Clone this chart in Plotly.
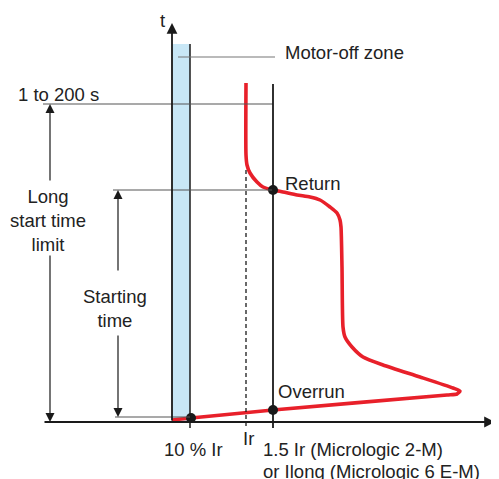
import plotly.graph_objects as go

# ---------------- data (schematic coordinates: current -> x, time -> y) ----------------
curve_current = [246, 246, 247, 250, 257, 263, 273, 283, 297, 310, 320, 330, 337, 340,
                 341, 342, 343, 345, 352, 363, 383, 420, 453, 460, 457, 447, 273, 191, 172]
curve_time = [83, 155, 165, 173, 182, 187, 190, 192, 195, 197, 200, 207, 213, 220,
              227, 267, 327, 337, 347, 357, 365, 377, 388, 391, 394, 395, 410, 418, 420]

point_current = [273, 273, 191]
point_time = [190, 410, 418]

zone_current = [172, 190]          # motor-off zone band
zone_time = [44, 422]

axis_origin = [43, 422]
t_axis_top = 23
i_axis_end = 495

level_long = 104                   # "1 to 200 s"
level_return = 190
level_start_end = 417
level_motor_label = 57

ir_current = 246
i15_current = 273
ten_pct_current = 190

labels = ["t", "Motor-off zone", "1 to 200 s", "Long<br>start time<br>limit",
          "Starting<br>time", "Return", "Overrun", "10 % Ir", "Ir",
          "1.5 Ir (Micrologic 2-M)", "or Ilong (Micrologic 6 E-M)", "I"]

RED = "#e8202a"
BLACK = "#1a1a1a"
GRAY = "#555555"
BLUE = "#c8e7f6"
FONT = dict(family="Liberation Sans, Arial, sans-serif", size=18.5, color="#222222")

# page body has an 8px margin: the figure covers window pixels 8..499 / 8..479
PAGE_OFFSET = 8
WIN_W, WIN_H = 499, 479

fig = go.Figure()
shapes = []

# blue band
shapes.append(dict(type="rect", x0=zone_current[0], x1=zone_current[1], y0=zone_time[0],
                   y1=zone_time[1], fillcolor=BLUE, line=dict(width=0), layer="below"))
# band right edge
shapes.append(dict(type="line", x0=zone_current[1], x1=zone_current[1], y0=zone_time[0],
                   y1=428, line=dict(color=BLACK, width=1.5)))
# motor-off leader
shapes.append(dict(type="line", x0=178, x1=275, y0=level_motor_label, y1=level_motor_label,
                   line=dict(color="#777777", width=1.2)))
# horizontal reference levels
shapes.append(dict(type="line", x0=axis_origin[0], x1=i15_current, y0=level_long, y1=level_long,
                   line=dict(color=GRAY, width=1.1)))
shapes.append(dict(type="line", x0=113, x1=i15_current, y0=level_return, y1=level_return,
                   line=dict(color=GRAY, width=1.1)))
shapes.append(dict(type="line", x0=115, x1=ten_pct_current, y0=level_start_end, y1=level_start_end,
                   line=dict(color=GRAY, width=1.1)))
# 1.5 Ir vertical
shapes.append(dict(type="line", x0=i15_current, x1=i15_current, y0=84, y1=428,
                   line=dict(color=BLACK, width=1.8)))
# Ir dashed
shapes.append(dict(type="line", x0=ir_current, x1=ir_current, y0=170, y1=428,
                   line=dict(color=BLACK, width=1.3, dash="4px,3px")))

fig.update_layout(shapes=shapes)

# red curve
fig.add_trace(go.Scatter(x=curve_current, y=curve_time, mode="lines",
                         line=dict(color=RED, width=3.6, shape="spline", smoothing=0.6),
                         hoverinfo="skip"))
# dots
fig.add_trace(go.Scatter(x=point_current, y=point_time, mode="markers",
                         marker=dict(color=BLACK, size=10), hoverinfo="skip"))

ann = []


def arrow(x, y, ax, ay, width=1.2, size=1.5):
    ann.append(dict(x=x, y=y, ax=ax, ay=ay, xref="x", yref="y", axref="x", ayref="y",
                    text="", showarrow=True, arrowhead=2, arrowsize=size,
                    arrowwidth=width, arrowcolor=BLACK, standoff=0, startstandoff=0))


# axes
arrow(zone_current[0], t_axis_top, zone_current[0], axis_origin[1], width=1.8, size=1.2)
arrow(i_axis_end, axis_origin[1], axis_origin[0], axis_origin[1], width=1.8, size=1.2)
# long start time limit arrows
arrow(50, level_long, 50, 182)
arrow(50, axis_origin[1], 50, 254)
# starting time arrows
arrow(118, level_return, 118, 272)
arrow(118, level_start_end, 118, 334)


def text(x, y, s, xanchor="center"):
    ann.append(dict(x=x, y=y, xref="x", yref="y", text=s, showarrow=False,
                    xanchor=xanchor, yanchor="middle", align="center", font=FONT))


text(162, 20, labels[0])
text(283, 52, labels[1], xanchor="left")
text(16, 94, labels[2], xanchor="left")
text(48, 220, labels[3])
text(115, 308, labels[4])
text(283, 183, labels[5], xanchor="left")
text(276, 391, labels[6], xanchor="left")
text(193, 449, labels[7])
text(248, 438, labels[8])
text(261, 449, labels[9], xanchor="left")
text(261, 471, labels[10], xanchor="left")
text(496, 434, labels[11], xanchor="left")

fig.update_layout(
    annotations=ann,
    width=WIN_W - PAGE_OFFSET, height=WIN_H - PAGE_OFFSET,
    margin=dict(l=0, r=0, t=0, b=0),
    paper_bgcolor="white", plot_bgcolor="white",
    showlegend=False,
    xaxis=dict(range=[PAGE_OFFSET, WIN_W], visible=False, fixedrange=True),
    yaxis=dict(range=[WIN_H, PAGE_OFFSET], visible=False, fixedrange=True),
)

fig.write_html("out.html")
